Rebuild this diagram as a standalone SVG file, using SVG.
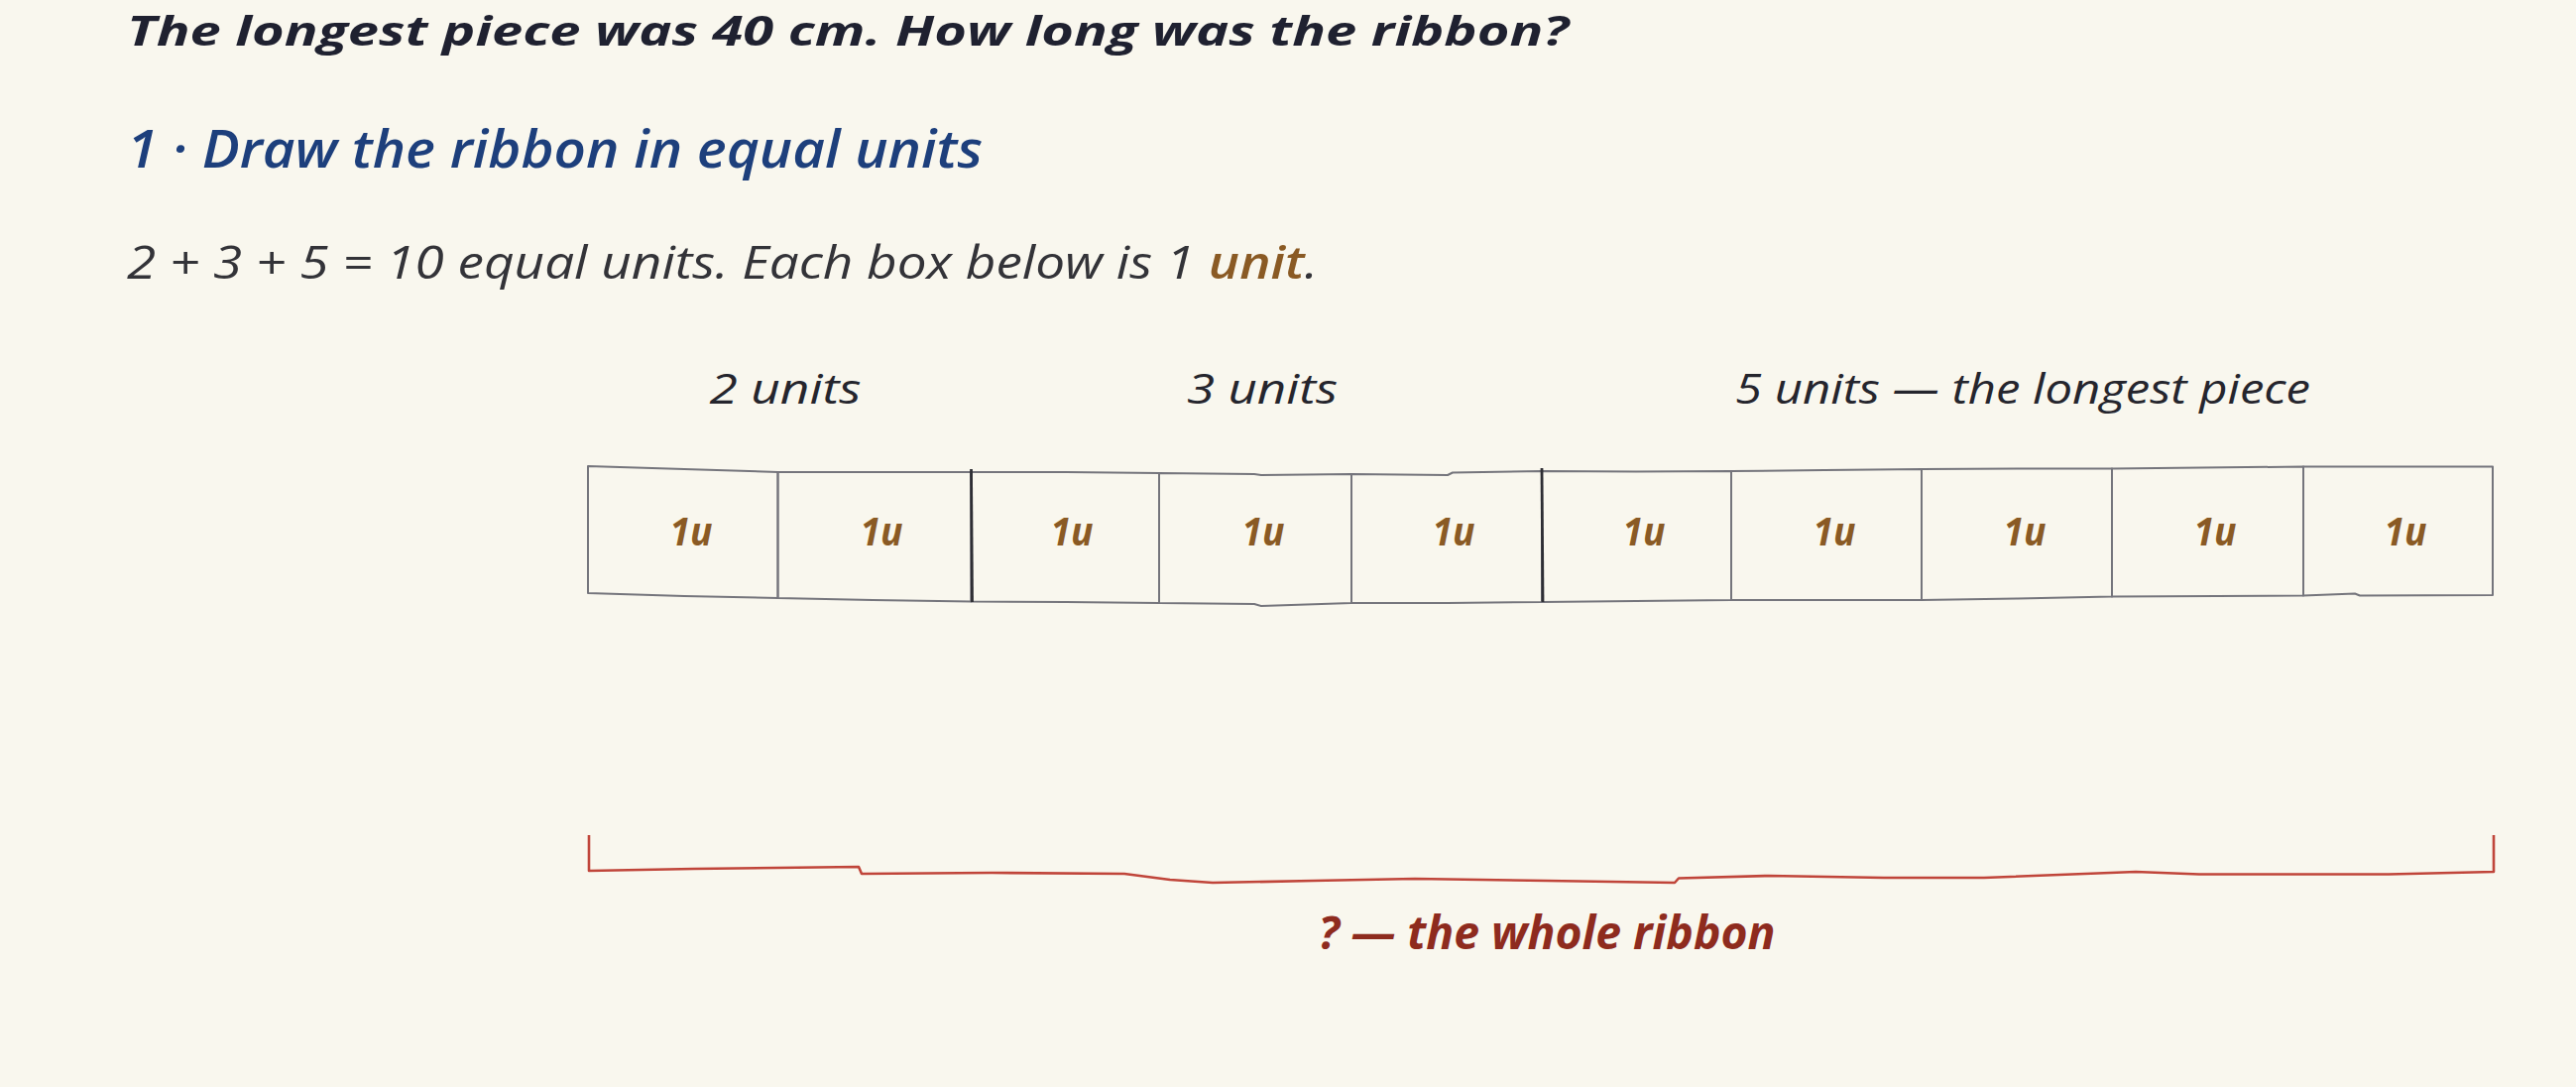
<svg xmlns="http://www.w3.org/2000/svg" width="2598" height="1096" viewBox="0 0 2598 1096">
<style>
  .t { font-family: "Open Sans", "Liberation Sans", sans-serif; font-style: italic; }
  .title { font-size: 42px; font-weight: 700; fill: #1f2130; }
  .head { font-size: 52px; font-weight: 600; fill: #1d3f7c; }
  .body { font-size: 46px; font-weight: 400; fill: #333338; }
  .unitw { fill: #8a5a24; font-weight: 600; }
  .lbl { font-size: 42px; font-weight: 400; fill: #25252d; text-anchor: middle; }
  .u { font-size: 40px; font-weight: 700; fill: #8a5a24; text-anchor: middle; }
  .box { fill: none; stroke: #75757c; stroke-width: 2; stroke-linejoin: round; }
  .div { fill: none; stroke: #2e2e34; stroke-width: 2.8; }
  .brk { fill: none; stroke: #c0453a; stroke-width: 2.6; stroke-linejoin: round; }
  .tot { font-size: 46px; font-weight: 700; fill: #8e2b1e; text-anchor: middle; }
</style>
<rect width="2598" height="1096" fill="#f9f7ee"/>

<g id="title">
  <text class="t title" x="128" y="46" textLength="1454" lengthAdjust="spacingAndGlyphs">The longest piece was 40 cm. How long was the ribbon?</text>
</g>
<g id="heading">
  <text class="t head" x="128" y="169" textLength="863" lengthAdjust="spacingAndGlyphs">1 · Draw the ribbon in equal units</text>
</g>
<g id="explain">
  <text class="t body" x="128" y="281" textLength="1201" lengthAdjust="spacingAndGlyphs">2 + 3 + 5 = 10 equal units. Each box below is 1 <tspan class="unitw">unit</tspan>.</text>
</g>

<g id="piece-2">
  <text class="t lbl" x="792" y="407" textLength="153" lengthAdjust="spacingAndGlyphs">2 units</text>
  <g id="box-1"><path class="box" d="M593,470 L690,473 L784.5,476 L784.5,603 L690,601 L593,598 Z"/><text class="t u" x="697" y="550" textLength="43" lengthAdjust="spacingAndGlyphs">1u</text></g>
  <g id="box-2"><path class="box" d="M784.5,476 L880,476 L979.5,476 L979.5,606.5 L880,605 L784.5,603 Z"/><text class="t u" x="889" y="550" textLength="43" lengthAdjust="spacingAndGlyphs">1u</text></g>
</g>
<g id="piece-3">
  <text class="t lbl" x="1273" y="407" textLength="152" lengthAdjust="spacingAndGlyphs">3 units</text>
  <g id="box-3"><path class="box" d="M979.5,476 L1075,476 L1169,477 L1169,608 L1075,607 L979.5,606.5 Z"/><text class="t u" x="1081" y="550" textLength="43" lengthAdjust="spacingAndGlyphs">1u</text></g>
  <g id="box-4"><path class="box" d="M1169,477 L1265,478 L1272,479 L1363,478 L1363,608 L1272,611 L1265,609 L1169,608 Z"/><text class="t u" x="1274" y="550" textLength="43" lengthAdjust="spacingAndGlyphs">1u</text></g>
  <g id="box-5"><path class="box" d="M1363,478 L1460,479 L1465,476.5 L1555,475 L1555,607 L1460,608 L1363,608 Z"/><text class="t u" x="1466" y="550" textLength="43" lengthAdjust="spacingAndGlyphs">1u</text></g>
</g>
<g id="piece-5">
  <text class="t lbl" x="2040" y="407" textLength="580" lengthAdjust="spacingAndGlyphs">5 units — the longest piece</text>
  <g id="box-6"><path class="box" d="M1555,475 L1650,475.5 L1746,475 L1746,605 L1650,606 L1555,607 Z"/><text class="t u" x="1658" y="550" textLength="43" lengthAdjust="spacingAndGlyphs">1u</text></g>
  <g id="box-7"><path class="box" d="M1746,475 L1840,474 L1938,473 L1938,605 L1840,605 L1746,605 Z"/><text class="t u" x="1850" y="550" textLength="43" lengthAdjust="spacingAndGlyphs">1u</text></g>
  <g id="box-8"><path class="box" d="M1938,473 L2035,472.5 L2130,472.5 L2130,601.5 L2035,603.5 L1938,605 Z"/><text class="t u" x="2042" y="550" textLength="43" lengthAdjust="spacingAndGlyphs">1u</text></g>
  <g id="box-9"><path class="box" d="M2130,472.5 L2323,470.5 L2323,600.5 L2130,601.5 Z"/><text class="t u" x="2234" y="550" textLength="43" lengthAdjust="spacingAndGlyphs">1u</text></g>
  <g id="box-10"><path class="box" d="M2323,470.5 L2514,470.5 L2514,600 L2380,600.5 L2375,598.5 L2323,600.5 Z"/><text class="t u" x="2426" y="550" textLength="43" lengthAdjust="spacingAndGlyphs">1u</text></g>
</g>

<g id="piece-dividers">
  <path class="div" d="M979.5,473 L980.5,607"/>
  <path class="div" d="M1555,472 L1556,607"/>
</g>

<g id="connectors">
  <path class="brk" d="M594,842 L594,878 L700,876 L866,874 L869,881 L1000,880 L1134,881 L1180,887 L1223,890 L1325,888 L1427,886 L1560,888 L1689,890 L1693,885.5 L1784,883 L1900,885 L2001,885 L2154,879 L2218,881.5 L2409,881.5 L2515,879 L2515,842"/>
  <text class="t tot" x="1560" y="957" textLength="461" lengthAdjust="spacingAndGlyphs">? — the whole ribbon</text>
</g>
</svg>
